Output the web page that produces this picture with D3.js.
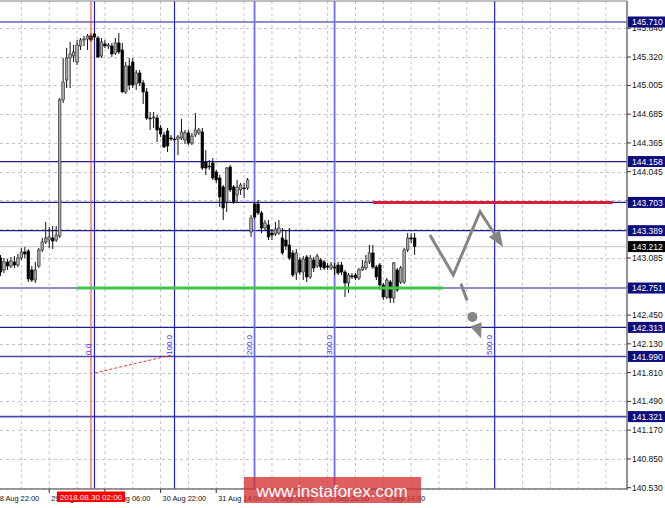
<!DOCTYPE html>
<html><head><meta charset="utf-8">
<script src="https://cdn.jsdelivr.net/npm/d3@7"></script>
<style>html,body{margin:0;padding:0;background:#fff;overflow:hidden}</style>
</head><body><svg id="c" width="665" height="508"></svg>
<script>
// ---------- DATA ----------
const open = [
143.085,142.952,143.041,142.996,143.041,143.007,143.085,143.152,143.163,142.952,
142.840,142.996,143.174,143.263,143.285,143.308,143.285,143.330,144.843,145.065,
145.310,145.332,145.265,145.443,145.510,145.521,145.555,145.577,145.532,145.332,
145.466,145.443,145.443,145.365,145.477,145.399,144.932,145.221,145.265,145.021,
145.143,145.032,144.932,144.642,144.642,144.642,144.531,144.453,144.498,144.420,
144.409,144.409,144.420,144.398,144.476,144.364,144.453,144.476,144.487,144.153,
144.108,144.142,144.042,143.975,143.875,143.708,144.097,143.875,143.786,143.842,
143.864,143.864,143.374,143.686,143.686,143.586,143.419,143.452,143.363,143.352,
143.363,143.308,143.285,143.230,143.141,142.918,143.063,142.929,143.096,142.874,
143.063,142.996,143.063,143.041,142.996,142.974,142.985,143.007,143.007,142.929,
142.807,142.885,142.896,142.863,142.952,142.974,143.041,143.141,142.985,143.007,
142.785,142.651,142.818,142.640,142.952,142.818,142.818,143.174,143.308,143.308,
143.285,143.208,143.285,143.308];
const high = [
143.119,143.085,143.074,143.096,143.107,143.130,143.196,143.208,143.185,142.996,
143.041,143.196,143.308,143.486,143.430,143.441,143.441,144.865,145.310,145.421,
145.488,145.454,145.510,145.532,145.555,145.577,145.588,145.599,145.555,145.532,
145.510,145.477,145.477,145.532,145.588,145.477,145.265,145.310,145.310,145.176,
145.176,145.065,144.976,144.709,144.709,144.676,144.565,144.487,144.531,144.453,
144.431,144.453,144.631,144.509,144.509,144.476,144.698,144.531,144.531,144.286,
144.175,144.197,144.064,144.008,143.897,144.097,144.120,143.897,143.953,143.919,
143.919,143.975,143.563,143.708,143.730,143.608,143.508,143.508,143.408,143.486,
143.508,143.419,143.397,143.419,143.174,143.185,143.096,143.107,143.119,143.119,
143.096,143.130,143.085,143.063,143.030,143.041,143.030,143.041,143.041,142.952,
142.918,142.918,142.918,142.974,143.063,143.119,143.230,143.230,143.007,143.030,
142.807,142.863,142.840,143.041,142.974,142.996,143.196,143.363,143.363,143.363,
143.330,143.352,143.352,143.352];
const low = [
142.885,142.918,142.952,142.974,142.974,142.985,143.063,143.085,142.818,142.818,
142.807,142.974,143.152,143.241,143.196,143.185,143.263,143.308,144.809,144.976,
144.976,145.265,145.232,145.399,145.443,145.399,145.488,145.510,145.310,145.310,
145.421,145.410,145.321,145.343,145.354,144.921,144.909,144.954,144.976,144.954,
144.998,144.798,144.620,144.509,144.531,144.375,144.431,144.309,144.264,144.387,
144.387,144.231,144.398,144.353,144.342,144.342,144.431,144.453,144.064,144.008,
144.064,143.953,143.919,143.652,143.508,143.597,143.819,143.686,143.697,143.786,
143.753,143.842,143.319,143.519,143.563,143.363,143.397,143.285,143.285,143.330,
143.341,143.119,143.174,143.063,142.874,142.840,142.896,142.840,142.818,142.852,
142.929,142.974,142.952,142.952,142.952,142.952,142.896,142.896,142.896,142.651,
142.696,142.852,142.840,142.840,142.941,142.952,143.018,142.963,142.840,142.729,
142.618,142.629,142.585,142.585,142.707,142.796,142.796,143.152,143.252,143.119,
143.119,143.174,143.241,143.196];
const close = [
142.929,143.041,142.996,143.052,143.007,143.085,143.152,143.130,142.852,142.840,
142.952,143.174,143.263,143.308,143.319,143.274,143.341,144.843,145.043,145.310,
145.354,145.377,145.454,145.510,145.521,145.555,145.510,145.543,145.321,145.488,
145.443,145.454,145.354,145.477,145.377,144.932,145.221,145.009,145.009,145.143,
145.032,144.932,144.642,144.636,144.654,144.509,144.464,144.320,144.331,144.415,
144.405,144.431,144.487,144.476,144.364,144.442,144.509,144.509,144.086,144.086,
144.100,143.975,143.953,143.764,143.641,144.086,143.842,143.708,143.875,143.897,
143.860,143.953,143.530,143.541,143.586,143.419,143.474,143.319,143.341,143.408,
143.419,143.141,143.219,143.085,142.896,143.141,142.929,143.074,142.874,143.085,
142.974,143.107,142.985,142.974,142.985,143.007,142.974,142.918,142.929,142.807,
142.896,142.881,142.863,142.952,142.985,143.041,143.141,142.985,142.874,142.785,
142.651,142.840,142.640,143.030,142.729,142.974,143.174,143.308,143.296,143.212];

const levels = [145.710, 144.158, 143.703, 143.389, 142.751, 142.313, 141.990, 141.321];
const currentPrice = 143.212;
const gridPrices = [145.640,145.320,145.005,144.685,144.365,144.045,143.725,143.405,143.085,
                    142.765,142.450,142.130,141.810,141.490,141.170,140.850,140.530];
const priceTickLabels = [145.640,145.320,145.005,144.685,144.365,144.045,143.085,
                    142.450,142.130,141.810,141.490,141.170,140.850,140.530];
const timeTickIdx = [-2, 14, 30, 46, 62, 78, 94, 110];
const timeTickLabels = ["28 Aug 22:00","29 Aug 14:00","30 Aug 06:00","30 Aug 22:00",
                        "31 Aug 14:00","3 Sep 06:00","3 Sep 22:00","4 Sep 14:00"];
const gridIdx = [6,14,22,30,38,46,54,62,70,78,86,94,102,110,118,126,134,142,150,158,166,174];
const markerIdx = 26, markerLabel = "2018.08.30 02:00";
const fiboIdx = [27, 50, 73, 96, 142];
const fiboLabels = ["0.0", "100.0", "200.0", "300.0", "500.0"];
const resistance = [[107, 143.703], [175.9, 143.703]];
const support = [[22, 142.751], [127.2, 142.751]];
const forecastPath = [[123.4, 143.34], [130.1, 142.896], [137.8, 143.60], [144.4, 143.208]];
const altPath = [[132.3, 142.80], [138.1, 142.19]];
const altDot = [135.6, 142.43];
const fiboTrend = [[27.1, 141.806], [49.2, 142.006]];

// ---------- SCALES ----------
const svg = d3.select('#c').style('font-family', '"Liberation Sans", Arial, sans-serif');
const plotRight = 627, plotBottom = 489, plotTop = 1;
const x = d3.scaleLinear().domain([0, 180]).range([0.5, 626.9]);
const y = d3.scaleLinear().domain([140.53, 145.71]).range([487.7, 22.0]);

// grid
svg.append('g').selectAll('line').data(gridIdx).join('line')
  .attr('x1', d => x(d)).attr('x2', d => x(d)).attr('y1', plotTop).attr('y2', plotBottom)
  .attr('stroke', '#c4c4c4').attr('stroke-width', 1).attr('stroke-dasharray', '3,3');
svg.append('g').selectAll('line').data(gridPrices).join('line')
  .attr('x1', 0).attr('x2', plotRight).attr('y1', d => Math.round(y(d)) + 0.5).attr('y2', d => Math.round(y(d)) + 0.5)
  .attr('stroke', '#c4c4c4').attr('stroke-width', 1).attr('stroke-dasharray', '3,3');

// current price line
svg.append('line').attr('x1', 0).attr('x2', plotRight)
  .attr('y1', y(currentPrice)).attr('y2', y(currentPrice))
  .attr('stroke', '#cfcfcf').attr('stroke-width', 1.2);

// level lines
const levelStyle = v => v === 142.751 ? ['#8e8ec4', 2] : (v === 141.990 || v === 141.321) ? ['#4a4aa6', 1.6] : ['#1e1e8c', 1.2];
svg.append('g').selectAll('line').data(levels).join('line')
  .attr('x1', 0).attr('x2', plotRight).attr('y1', d => y(d)).attr('y2', d => y(d))
  .attr('stroke', d => levelStyle(d)[0]).attr('stroke-width', d => levelStyle(d)[1]);

// fibo time zone lines
svg.append('g').selectAll('line').data(fiboIdx).join('line')
  .attr('x1', d => x(d)).attr('x2', d => x(d)).attr('y1', plotTop).attr('y2', plotBottom)
  .attr('stroke', (d, i) => (i === 2 || i === 3) ? '#6e6ef4' : '#1414ff')
  .attr('stroke-width', (d, i) => (i === 2 || i === 3) ? 1.8 : 1.1);

// candles
const idx = d3.range(close.length);
const cg = svg.append('g');
cg.selectAll('line').data(idx).join('line')
  .attr('x1', i => x(i)).attr('x2', i => x(i))
  .attr('y1', i => y(high[i])).attr('y2', i => y(low[i]))
  .attr('stroke', '#111').attr('stroke-width', 1);
cg.selectAll('rect').data(idx).join('rect')
  .attr('x', i => x(i) - 1.3).attr('width', 2.6)
  .attr('y', i => Math.min(y(open[i]), y(close[i])))
  .attr('height', i => Math.max(0.9, Math.abs(y(open[i]) - y(close[i]))))
  .attr('fill', i => close[i] > open[i] ? '#a9a9a9' : '#000')
  .attr('stroke', i => close[i] > open[i] ? '#222' : '#000')
  .attr('stroke-width', 0.6);

// red marker line
svg.append('line').attr('x1', x(markerIdx)).attr('x2', x(markerIdx)).attr('y1', plotTop).attr('y2', plotBottom)
  .attr('stroke', '#ff3030').attr('stroke-opacity', 0.5).attr('stroke-width', 2);

// support / resistance
const line = d3.line().x(d => x(d[0])).y(d => y(d[1]));
svg.append('path').attr('d', line(resistance)).attr('stroke', '#d81e3c').attr('stroke-width', 3).attr('fill', 'none');
svg.append('path').attr('d', line(support)).attr('stroke', '#3cc846').attr('stroke-width', 3).attr('fill', 'none');

// forecast arrows
function arrowHead(p0, p1, len, hw) {
  const dx = p1[0] - p0[0], dy = p1[1] - p0[1], L = Math.hypot(dx, dy);
  const ux = dx / L, uy = dy / L;
  const bx = p1[0] - ux * len, by = p1[1] - uy * len;
  return { base: [bx, by], pts: [[p1[0], p1[1]], [bx - uy * hw, by + ux * hw], [bx + uy * hw, by - ux * hw]] };
}
const fpx = forecastPath.map(d => [x(d[0]), y(d[1])]);
const ah = arrowHead(fpx[2], fpx[3], 16, 6.5);
const fpLine = fpx.slice(0, 3).concat([ah.base]);
svg.append('path').attr('d', d3.line()(fpLine)).attr('stroke', '#858585').attr('stroke-width', 3)
  .attr('fill', 'none').attr('stroke-linejoin', 'miter');
svg.append('polygon').attr('points', ah.pts.map(p => p.join(',')).join(' ')).attr('fill', '#858585');

const apx = altPath.map(d => [x(d[0]), y(d[1])]);
const ah2 = arrowHead(apx[0], apx[1], 15, 6);
svg.append('line').attr('x1', apx[0][0]).attr('y1', apx[0][1]).attr('x2', ah2.base[0]).attr('y2', ah2.base[1])
  .attr('stroke', '#858585').attr('stroke-width', 3).attr('stroke-dasharray', '18,40');
svg.append('circle').attr('cx', x(altDot[0])).attr('cy', y(altDot[1])).attr('r', 5).attr('fill', '#858585');
svg.append('polygon').attr('points', ah2.pts.map(p => p.join(',')).join(' ')).attr('fill', '#858585');

// fibo trend (red dashed)
svg.append('path').attr('d', line(fiboTrend)).attr('stroke', '#e83030').attr('stroke-width', 1)
  .attr('stroke-dasharray', '3,2').attr('fill', 'none');

// fibo labels
svg.append('g').selectAll('text').data(fiboIdx).join('text')
  .attr('transform', d => `translate(${x(d) - 3},355) rotate(-90)`)
  .attr('font-size', 8).attr('fill', '#2a2aff').text((d, i) => fiboLabels[i]);

// axes frame
svg.append('line').attr('x1', 0).attr('x2', plotRight).attr('y1', plotTop).attr('y2', plotTop).attr('stroke', '#808080').attr('stroke-width', 1.2);
svg.append('line').attr('x1', 0).attr('x2', plotRight + 1).attr('y1', plotBottom).attr('y2', plotBottom).attr('stroke', '#777').attr('stroke-width', 1.6);
svg.append('line').attr('x1', plotRight).attr('x2', plotRight).attr('y1', plotTop).attr('y2', plotBottom).attr('stroke', '#777').attr('stroke-width', 1.6);

// price axis ticks and labels
const ya = svg.append('g');
ya.selectAll('line').data(gridPrices).join('line')
  .attr('x1', plotRight).attr('x2', plotRight + 4).attr('y1', d => y(d)).attr('y2', d => y(d)).attr('stroke', '#333');
ya.selectAll('text').data(priceTickLabels).join('text')
  .attr('x', 632).attr('y', d => y(d) + 3).attr('font-size', 8.5).attr('fill', '#111').text(d => d.toFixed(3));

// level labels
const lg = svg.append('g');
const tags = levels.map(v => ({ v, bg: '#0d0d7c' })).concat([{ v: currentPrice, bg: '#000' }]);
lg.selectAll('rect').data(tags).join('rect')
  .attr('x', 628).attr('width', 37).attr('y', d => y(d.v) - 5.5).attr('height', 11).attr('fill', d => d.bg);
lg.selectAll('text').data(tags).join('text')
  .attr('x', 632).attr('y', d => y(d.v) + 3.2).attr('font-size', 8.5).attr('fill', '#fff').text(d => d.v.toFixed(3));

// time axis
const xa = svg.append('g');
xa.selectAll('line').data(timeTickIdx).join('line')
  .attr('x1', d => x(d)).attr('x2', d => x(d)).attr('y1', plotBottom).attr('y2', plotBottom + 4).attr('stroke', '#333');
xa.selectAll('text').data(timeTickIdx).join('text')
  .attr('x', d => x(d) + 2).attr('y', 500.5).attr('font-size', 7.4).attr('fill', '#111')
  .text((d, i) => timeTickLabels[i]);

// marker date label
svg.append('rect').attr('x', x(markerIdx) - 34).attr('y', 491.5).attr('width', 68).attr('height', 10.5).attr('fill', '#ff0000');
svg.append('text').attr('x', x(markerIdx)).attr('y', 499.7).attr('text-anchor', 'middle')
  .attr('font-size', 8).attr('fill', '#fff').text(markerLabel);

// watermark
svg.append('rect').attr('x', 244).attr('y', 477).attr('width', 177).attr('height', 26)
  .attr('fill', 'rgb(212,50,50)').attr('opacity', 0.78);
svg.append('text').attr('x', 332).attr('y', 497).attr('text-anchor', 'middle')
  .attr('font-size', 17).attr('fill', '#fff').text('www.instaforex.com');
</script>
</body></html>
